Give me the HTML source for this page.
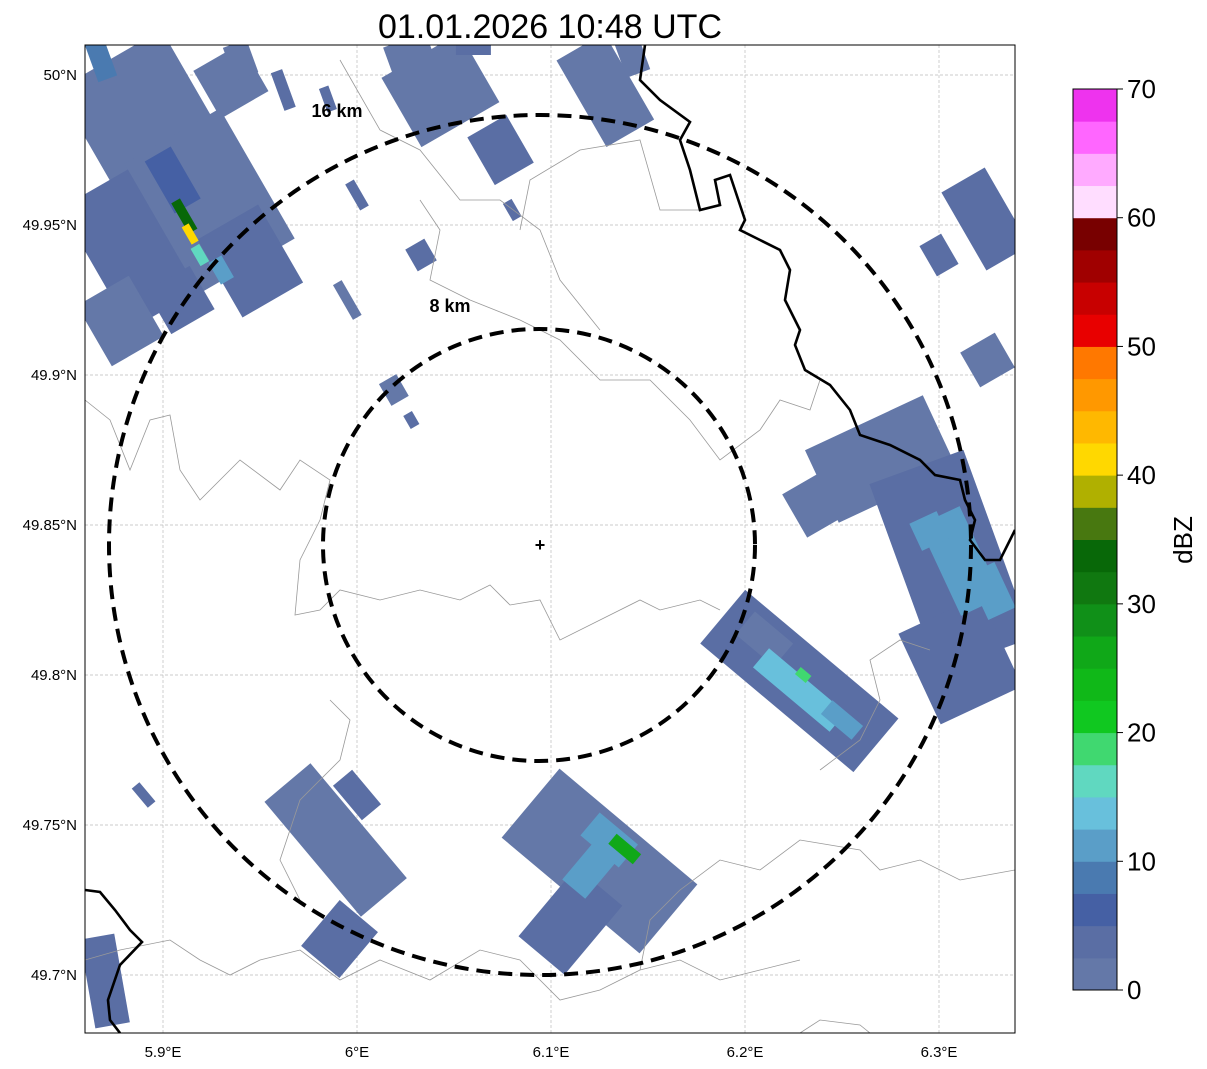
<!DOCTYPE html>
<html><head><meta charset="utf-8"><style>
body{margin:0;background:#fff;}
svg{display:block;font-family:"Liberation Sans",sans-serif;}
</style></head><body>
<svg id="chart" width="1207" height="1069" viewBox="0 0 1207 1069">
<defs><clipPath id="mapclip"><rect x="85" y="45" width="930" height="988"/></clipPath></defs>
<text x="550" y="38" font-size="34" text-anchor="middle" fill="#000">01.01.2026 10:48 UTC</text>
<g id="map" clip-path="url(#mapclip)">
<rect x="85" y="45" width="930" height="988" fill="#fff"/>
<g id="grid"></g>
<g id="echoes"></g>
<g fill="none" stroke="#999" stroke-width="0.8">
<path d="M85,400 L110,420 L130,470 L150,420 L170,415 L180,470 L200,500 L240,460 L280,490 L300,460 L330,480 L320,520 L300,560 L295,615 L320,610 L340,590 L380,600 L420,590 L460,600 L490,585 L510,605 L540,600 L560,640 L600,620 L640,600 L660,610 L700,600 L720,610"/>
<path d="M420,200 L440,230 L430,280 L470,300 L520,320 L560,340 L600,380 L650,380 L690,420 L720,460 L760,430 L780,400 L810,410 L820,380"/>
<path d="M340,60 L380,130 L420,150 L460,200 L500,200 L540,230 L560,280 L600,330"/>
<path d="M520,230 L530,180 L580,150 L640,140 L660,210 L700,210"/>
<path d="M85,960 L120,950 L170,940 L200,960 L230,975 L260,960 L300,950 L340,980 L380,960 L430,980 L480,950 L520,960 L560,1000 L600,990 L640,970 L680,960 L720,980 L760,970 L800,960"/>
<path d="M640,970 L650,920 L680,890 L720,860 L760,870 L800,840 L860,850 L880,870 L920,860 L960,880 L1015,870"/>
<path d="M800,1033 L820,1020 L860,1025 L870,1033"/>
<path d="M820,770 L860,740 L880,700 L870,660 L900,640 L930,650"/>
<path d="M330,700 L350,720 L340,760 L300,800 L280,860 L300,900"/>
</g>
<g fill="none" stroke="#000" stroke-width="2.6">
<path d="M645,45 L640,80 L660,100 L690,122 L680,140 L690,170 L700,210 L720,205 L715,180 L730,175 L745,220 L740,230 L760,240 L780,250 L790,270 L785,300 L800,330 L795,345 L805,370 L830,385 L850,410 L860,435 L890,445 L920,460 L935,475 L960,480 L965,500 L975,520 L970,540 L985,560 L1000,560 L1010,540 L1015,530"/>
<path d="M85,890 L100,892 L115,910 L130,930 L142,942 L120,965 L108,1000 L110,1020 L120,1033"/>
</g>
<g fill="none" stroke="#000" stroke-width="4" stroke-dasharray="14,8">
<ellipse cx="540" cy="545" rx="431" ry="430"/>
<ellipse cx="539" cy="545" rx="216" ry="216"/>
</g>
<text x="337" y="117" font-size="18" font-weight="bold" text-anchor="middle">16 km</text>
<text x="450" y="312" font-size="18" font-weight="bold" text-anchor="middle">8 km</text>
<text x="540" y="551" font-size="18" font-weight="bold" text-anchor="middle">+</text>
</g>
<rect x="85" y="45" width="930" height="988" fill="none" stroke="#000" stroke-width="1"/>
<g id="axes" font-size="15" fill="#000"></g>
<g id="cbar"></g>
<text x="1192" y="540" font-size="26" text-anchor="middle" transform="rotate(-90 1192 540)">dBZ</text>
</svg>
<script>
const lonTicks=[5.9,6.0,6.1,6.2,6.3];
const lonLabels=["5.9°E","6°E","6.1°E","6.2°E","6.3°E"];
const latTicks=[50.0,49.95,49.9,49.85,49.8,49.75,49.7];
const latLabels=["50°N","49.95°N","49.9°N","49.85°N","49.8°N","49.75°N","49.7°N"];
const cbTicks=[0,10,20,30,40,50,60,70];
const cbColors=["#6478a8","#5a6ea4","#4560a4","#4a7ab0","#5a9ec8","#68c0dc","#60d8c0","#40d870","#10c820","#10b818","#10a818","#109018","#107810","#086808","#487810","#b0b000","#ffd800","#ffb800","#ff9800","#ff7800","#e80000","#c80000","#a00000","#780000","#ffddff","#ffaaff","#ff66ff","#ee33ee"];
// echo cells: [lon, lat, dBZ, width px, height px, angle deg]
const echoCells=[
[5.893,49.982,2,120,160,-30],[5.883,49.942,3,80,140,-30],[5.924,49.958,2,110,150,-30],
[5.945,49.938,3,70,90,-30],[5.878,49.918,2,60,70,-30],[5.935,49.998,2,55,55,-30],
[5.909,49.925,4,50,50,-30],[5.868,50.005,8,20,40,-20],[5.905,49.965,5,30,60,-30],
[5.940,50.005,2,25,35,-20],[5.962,49.995,3,12,40,-20],[5.985,49.992,3,10,25,-20],
[5.911,49.953,33,10,35,-30],[5.914,49.947,41,8,20,-30],[5.919,49.940,15,10,20,-30],[5.930,49.935,10,15,25,-30],
[6.043,49.995,2,90,80,-30],[6.074,49.975,4,45,55,-30],[6.027,50.007,2,45,30,-20],[6.060,50.010,3,35,20,0],
[6.128,49.995,2,55,100,-30],[6.142,50.006,2,25,35,-20],[6.000,49.960,3,10,30,-30],[5.995,49.925,2,10,40,-30],
[6.033,49.940,3,22,25,-30],[6.019,49.895,2,20,25,-30],[6.028,49.885,3,10,15,-30],[6.080,49.955,3,10,20,-30],
[6.324,49.952,3,50,90,-30],[6.300,49.940,3,25,35,-30],[6.325,49.905,2,40,40,-30],
[6.270,49.872,2,130,80,-25],[6.306,49.838,4,100,200,-20],[6.311,49.805,3,90,100,-25],
[6.239,49.858,2,60,50,-30],[6.311,49.838,11,45,100,-25],[6.327,49.828,12,30,50,-25],[6.295,49.848,10,30,30,-25],
[6.228,49.798,3,200,70,40],[6.210,49.812,2,50,30,40],[6.228,49.795,13,100,25,40],[6.230,49.800,18,14,9,40],[6.250,49.785,10,40,18,40],
[6.125,49.738,2,180,90,40],[6.110,49.718,3,60,90,40],[6.130,49.745,11,50,30,40],[6.120,49.735,10,30,50,40],[6.138,49.742,27,32,13,40],
[5.989,49.745,2,150,60,50],[5.991,49.712,3,50,60,40],[6.000,49.760,4,45,25,50],[5.870,49.698,3,35,90,-10],[5.890,49.760,3,10,25,-40]
];
const NS="http://www.w3.org/2000/svg";
const X0=85,X1=1015,Y0=45,Y1=1033;
function xOf(lon){return 163+(lon-5.9)*1940;}
function yOf(lat){return 75+(50-lat)*3000;}
function colorOf(v){let i=Math.floor(v/2.5);return cbColors[Math.max(0,Math.min(cbColors.length-1,i))];}
function mk(tag,attrs,parent){const e=document.createElementNS(NS,tag);for(const k in attrs)e.setAttribute(k,attrs[k]);parent.appendChild(e);return e;}
const grid=document.getElementById('grid'),axes=document.getElementById('axes');
lonTicks.forEach((t,i)=>{const x=xOf(t);
 const l=mk('line',{x1:x,x2:x,y1:Y0,y2:Y1,stroke:'#bbb','stroke-width':0.7,'stroke-dasharray':'3,2'},grid);
 
 
 const tx=mk('text',{x:x,y:1057,'text-anchor':'middle'},axes);tx.textContent=lonLabels[i];
 
 });
latTicks.forEach((t,i)=>{const y=yOf(t);
 const l=mk('line',{x1:X0,x2:X1,y1:y,y2:y,stroke:'#bbb','stroke-width':0.7,'stroke-dasharray':'3,2'},grid);
 
 
 const tx=mk('text',{x:77,y:y+5,'text-anchor':'end'},axes);tx.textContent=latLabels[i];
 
 });
const echoes=document.getElementById('echoes');
echoCells.forEach(c=>{const x=xOf(c[0]),y=yOf(c[1]);
 const r=mk('rect',{x:x-c[3]/2,y:y-c[4]/2,width:c[3],height:c[4],fill:colorOf(c[2]),transform:`rotate(${c[5]} ${x} ${y})`},echoes);
 
 });
const cb=document.getElementById('cbar');
const CB_X=1073,CB_W=44,CB_TOP=89,CB_BOT=990;
function cbY(v){return CB_BOT-(v/70)*(CB_BOT-CB_TOP);}
cbColors.forEach((col,i)=>{const y1=cbY((i+1)*2.5),y0=cbY(i*2.5);
 const r=mk('rect',{x:CB_X,y:y1,width:CB_W,height:y0-y1+0.5,fill:col},cb);
 
 });
mk('rect',{x:CB_X,y:CB_TOP,width:CB_W,height:CB_BOT-CB_TOP,fill:'none',stroke:'#000','stroke-width':1},cb);
cbTicks.forEach(t=>{const y=cbY(t);
 mk('line',{x1:CB_X+CB_W,x2:CB_X+CB_W+6,y1:y,y2:y,stroke:'#000'},cb);
 const tx=mk('text',{x:CB_X+CB_W+10,y:y+9,'font-size':26},cb);tx.textContent=t;
 
 });
</script>
</body></html>
